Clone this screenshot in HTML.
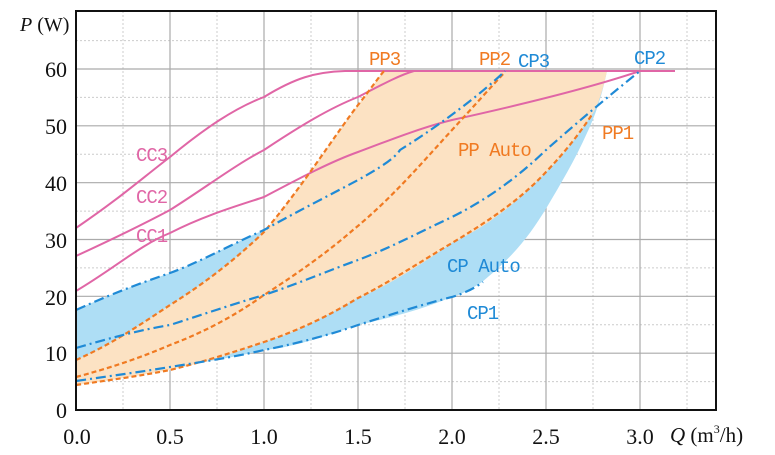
<!DOCTYPE html>
<html><head><meta charset="utf-8"><style>
html,body{margin:0;padding:0;background:#fff;width:775px;height:455px;overflow:hidden}
.ax text{font-family:"Liberation Serif",serif}
.lb text{font-family:"Liberation Mono","DejaVu Sans Mono",monospace;font-size:19px;letter-spacing:-1px}
</style></head><body>
<svg width="775" height="455" viewBox="0 0 775 455" xmlns="http://www.w3.org/2000/svg">
<g stroke="#ccc" stroke-width="1" stroke-dasharray="2,2">
<line x1="123" y1="11" x2="123" y2="410"/><line x1="217" y1="11" x2="217" y2="410"/><line x1="311" y1="11" x2="311" y2="410"/><line x1="405" y1="11" x2="405" y2="410"/><line x1="499" y1="11" x2="499" y2="410"/><line x1="593" y1="11" x2="593" y2="410"/><line x1="687" y1="11" x2="687" y2="410"/>
<line x1="76" y1="381.6" x2="716" y2="381.6"/><line x1="76" y1="324.8" x2="716" y2="324.8"/><line x1="76" y1="267.9" x2="716" y2="267.9"/><line x1="76" y1="211.1" x2="716" y2="211.1"/><line x1="76" y1="154.3" x2="716" y2="154.3"/><line x1="76" y1="97.4" x2="716" y2="97.4"/><line x1="76" y1="40.6" x2="716" y2="40.6"/>
</g>
<g stroke="#aaa" stroke-width="1.2">
<line x1="170" y1="11" x2="170" y2="410"/><line x1="264" y1="11" x2="264" y2="410"/><line x1="358" y1="11" x2="358" y2="410"/><line x1="452" y1="11" x2="452" y2="410"/><line x1="546" y1="11" x2="546" y2="410"/><line x1="640" y1="11" x2="640" y2="410"/>
<line x1="76" y1="353.2" x2="716" y2="353.2"/><line x1="76" y1="296.3" x2="716" y2="296.3"/><line x1="76" y1="239.5" x2="716" y2="239.5"/><line x1="76" y1="182.7" x2="716" y2="182.7"/><line x1="76" y1="125.8" x2="716" y2="125.8"/><line x1="76" y1="69" x2="716" y2="69"/>
</g>
<path d="M76,310 C120,290 150,280 170,273 C200,262 230,245 264,230 C300,210 330,195 358,180 C380,168 395,158 400,150 C440,125 480,95 505,71 L607,71 C603,90 598,110 587,133 C575,160 560,185 547,207 C530,235 515,255 482,282 C470,290 460,295 452,297 C420,310 390,318 358,325 C320,338 290,348 264,350 C230,358 200,363 170,367 C130,373 100,378 76,381 Z" fill="#aedef5"/>
<path d="M76,360 C110,345 140,325 170,305 C210,280 240,255 264,232 C300,190 335,135 358,105 C370,90 378,78 384,71 L607,71 C603,90 598,105 593,113 C575,140 560,160 546,172 C520,200 490,225 452,243 C420,265 390,285 358,298 C320,320 290,335 264,342 C230,355 200,364 170,370 C130,377 100,382 76,385 Z" fill="#fce2c3"/>
<g fill="none" stroke="#e066a6" stroke-width="2">
<path d="M76,228 C120,198 140,180 170,157 C205,128 235,108 264,97 C295,78 315,72 345,71 L675,71"/>
<path d="M76,256 C115,238 140,226 170,210 C205,188 235,165 264,150 C300,126 330,108 358,97 C385,83 400,75 414,71"/>
<path d="M76,291 C115,268 140,245 170,233 C205,215 240,205 264,197 C300,178 330,162 358,152 C390,140 420,128 452,120 C520,105 590,88 640,71"/>
</g>
<g fill="none" stroke="#f07a22" stroke-width="2.2" stroke-dasharray="5,3">
<path d="M76,360 C110,345 140,325 170,305 C210,280 240,255 264,232 C300,190 335,135 358,105 C370,90 378,78 384,71"/>
<path d="M76,377 C110,368 140,358 170,345 C210,330 240,312 264,295 C300,272 330,250 353,230 C390,200 420,165 452,130 C475,105 490,88 505,72"/>
<path d="M76,385 C110,380 140,376 170,370 C210,360 240,350 264,342 C300,330 330,315 358,298 C390,282 420,262 452,243 C490,220 520,200 546,172 C565,152 580,133 593,113"/>
</g>
<g fill="none" stroke="#1f8ad6" stroke-width="2.2" stroke-dasharray="10,4,2,4">
<path d="M76,310 C120,290 150,280 170,273 C200,262 230,245 264,230 C300,210 330,195 358,180 C380,168 395,158 400,150 C440,125 480,95 505,71"/>
<path d="M76,348 C110,338 140,330 170,325 C210,312 240,302 264,295 C300,283 330,270 358,260 C390,248 420,232 452,217 C490,198 520,175 546,150 C580,120 610,95 640,71"/>
<path d="M76,381 C110,376 140,372 170,367 C200,362 230,358 264,350 C290,345 330,335 358,325 C390,315 420,305 452,297 C465,293 475,288 483,282"/>
</g>
<rect x="76" y="11" width="640" height="399" fill="none" stroke="#111" stroke-width="2"/>
<g class="ax">
<g font-size="22" fill="#111" text-anchor="end">
<text x="67" y="77">60</text><text x="67" y="134">50</text><text x="67" y="191">40</text><text x="67" y="248">30</text><text x="67" y="305">20</text><text x="67" y="361">10</text><text x="67" y="418">0</text>
</g>
<g font-size="22" fill="#111" text-anchor="middle">
<text x="77" y="444">0.0</text><text x="170" y="444">0.5</text><text x="264" y="444">1.0</text><text x="358" y="444">1.5</text><text x="452" y="444">2.0</text><text x="546" y="444">2.5</text><text x="640" y="444">3.0</text>
</g>
<text x="670" y="442" font-size="21" fill="#111"><tspan font-style="italic">Q</tspan> (m<tspan font-size="12" dy="-9">3</tspan><tspan dy="9">/h)</tspan></text>
<text x="20" y="31" font-size="20" fill="#111"><tspan font-style="italic">P</tspan> (W)</text>
</g>
<g class="lb" fill="#e066a6"><text x="136" y="161">CC3</text><text x="136" y="203">CC2</text><text x="136" y="242">CC1</text></g>
<g class="lb" fill="#f07a22"><text x="369" y="65">PP3</text><text x="479" y="65">PP2</text><text x="602" y="139">PP1</text><text x="458" y="156">PP Auto</text></g>
<g class="lb" fill="#1f8ad6"><text x="518" y="67">CP3</text><text x="634" y="64">CP2</text><text x="447" y="272">CP Auto</text><text x="467" y="319">CP1</text></g>
</svg>
</body></html>
